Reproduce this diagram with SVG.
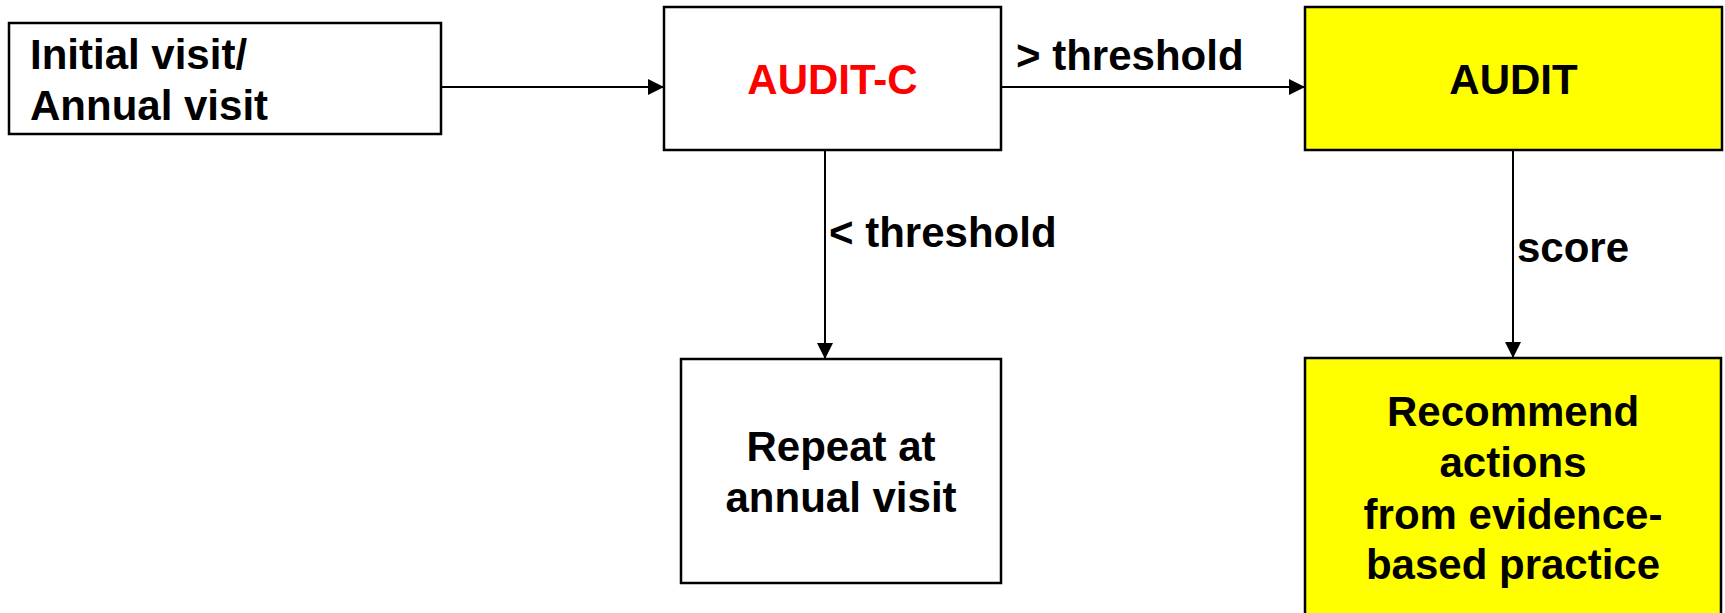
<svg xmlns="http://www.w3.org/2000/svg" width="1725" height="613" viewBox="0 0 1725 613">
<style>
.box{fill:#fff;stroke:#000;stroke-width:2.5}
.yel{fill:#ffff00;stroke:#000;stroke-width:2.5}
.t{font-family:"Liberation Sans",Arial,sans-serif;font-weight:bold;font-size:42px;fill:#000}
.c{text-anchor:middle}
.red{fill:#ff0000}
.ln{stroke:#000;stroke-width:2;fill:none;marker-end:url(#ah)}
</style>
<defs>
<marker id="ah" markerUnits="userSpaceOnUse" markerWidth="16" markerHeight="16" viewBox="0 0 16 16" refX="16" refY="8" orient="auto">
<path d="M0,0 L16,8 L0,16 Z" fill="#000"/>
</marker>
</defs>
<rect width="1725" height="613" fill="#fff"/>
<g id="connectors">
<line class="ln" x1="441" y1="87" x2="664" y2="87"/>
<line class="ln" x1="1001" y1="87" x2="1305" y2="87"/>
<line class="ln" x1="825" y1="150" x2="825" y2="359"/>
<line class="ln" x1="1513" y1="150" x2="1513" y2="358"/>
<text class="t" x="1016" y="70">&gt; threshold</text>
<text class="t" x="829" y="247">&lt; threshold</text>
<text class="t" x="1517" y="262">score</text>
</g>
<g id="initial">
<rect class="box" x="9" y="23" width="432" height="111"/>
<text class="t" x="30" y="69">Initial visit/</text>
<text class="t" x="30" y="120">Annual visit</text>
</g>
<g id="auditc">
<rect class="box" x="664" y="7" width="337" height="143"/>
<text class="t c red" x="832.5" y="94">AUDIT-C</text>
</g>
<g id="audit">
<rect class="yel" x="1305" y="7" width="417" height="143"/>
<text class="t c" x="1513.5" y="94">AUDIT</text>
</g>
<g id="repeat">
<rect class="box" x="681" y="359" width="320" height="224"/>
<text class="t c" x="841" y="461">Repeat at</text>
<text class="t c" x="841" y="512">annual visit</text>
</g>
<g id="recommend">
<rect class="yel" x="1305" y="358" width="416" height="270"/>
<text class="t c" x="1513" y="426">Recommend</text>
<text class="t c" x="1513" y="477">actions</text>
<text class="t c" x="1513" y="529">from evidence-</text>
<text class="t c" x="1513" y="579">based practice</text>
</g>
</svg>
